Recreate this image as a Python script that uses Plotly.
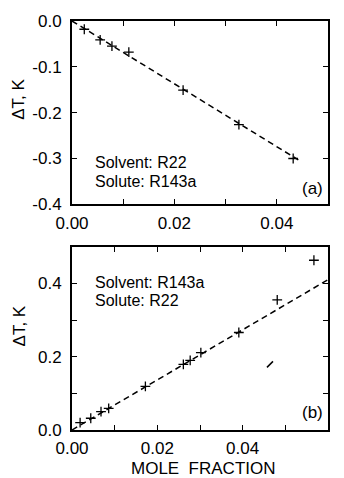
import plotly.graph_objects as go
from plotly.subplots import make_subplots

# Panel (a): solvent R22, solute R143a
a_x = [0.0024, 0.0055, 0.0078, 0.0111, 0.0217, 0.0326, 0.0432]
a_y = [-0.018, -0.041, -0.055, -0.068, -0.151, -0.226, -0.300]
a_fit_x = [0.0, 0.0442]
a_fit_y = [0.0, -0.303]

# Panel (b): solvent R143a, solute R22
b_x = [0.0019, 0.0044, 0.0068, 0.0086, 0.0172, 0.0261, 0.0277, 0.0302, 0.0391, 0.0481, 0.0567]
b_y = [0.020, 0.032, 0.050, 0.059, 0.119, 0.179, 0.190, 0.211, 0.266, 0.355, 0.463]
b_fit_x = [0.0, 0.06]
b_fit_y = [0.0, 0.41]
b_stray_x = [0.0464]
b_stray_y = [0.179]

a_xticks = [0.0, 0.02, 0.04]
a_xtext = ["0.00", "0.02", "0.04"]
a_yticks = [-0.4, -0.3, -0.2, -0.1, 0.0]
a_ytext = ["-0.4", "-0.3", "-0.2", "-0.1", "0.0"]
b_xticks = [0.0, 0.02, 0.04, 0.06]
b_xtext = ["0.00", "0.02", "0.04", "0.06"]
b_yticks = [0.0, 0.2, 0.4]
b_ytext = ["0.0", "0.2", "0.4"]

FONT = "Liberation Sans, Arial, Helvetica, sans-serif"
FS = 17

fig = make_subplots(rows=2, cols=1, vertical_spacing=43/415)

mk = dict(symbol="cross-thin", size=7, color="black", line=dict(color="black", width=1.3))
ln = dict(color="black", width=1.5, dash="6px,4px")

fig.add_trace(go.Scatter(x=a_fit_x, y=a_fit_y, mode="lines", line=ln, showlegend=False), row=1, col=1)
fig.add_trace(go.Scatter(x=a_x, y=a_y, mode="markers", marker=mk, showlegend=False), row=1, col=1)
fig.add_trace(go.Scatter(x=b_fit_x, y=b_fit_y, mode="lines", line=ln, showlegend=False), row=2, col=1)
fig.add_trace(go.Scatter(x=b_x, y=b_y, mode="markers", marker=mk, showlegend=False), row=2, col=1)
fig.add_trace(go.Scatter(x=b_stray_x, y=b_stray_y, mode="markers",
                         marker=dict(symbol="line-ne", size=6, line=dict(color="black", width=1.5)),
                         showlegend=False), row=2, col=1)

axcommon = dict(showline=True, linecolor="black", linewidth=2, mirror="ticks",
                ticks="inside", ticklen=5, tickwidth=1, tickcolor="black",
                showgrid=False, zeroline=False,
                tickfont=dict(family=FONT, size=FS, color="black"))

fig.update_xaxes(range=[0, 0.05], tickvals=a_xticks, ticktext=a_xtext,
                 minor=dict(dtick=0.01, ticks="inside", ticklen=5, tickcolor="black"),
                 ticklabelstandoff=2, **axcommon, row=1, col=1)
fig.update_yaxes(range=[-0.4, 0.0], tickvals=a_yticks, ticktext=a_ytext,
                 ticklabelstandoff=5, **axcommon, row=1, col=1)
fig.update_xaxes(range=[0, 0.06], tickvals=b_xticks, ticktext=b_xtext,
                 minor=dict(dtick=0.01, ticks="inside", ticklen=5, tickcolor="black"),
                 ticklabelstandoff=2, **axcommon, row=2, col=1)
fig.update_yaxes(range=[0, 0.5], tickvals=b_yticks, ticktext=b_ytext,
                 minor=dict(dtick=0.1, ticks="inside", ticklen=5, tickcolor="black"),
                 ticklabelstandoff=5, **axcommon, row=2, col=1)

tf = dict(family=FONT, size=FS, color="black")
lf = dict(family=FONT, size=16, color="black")
ann = [
    dict(text="Solvent: R22", x=0.0042, y=-0.3086, xref="x", yref="y", xanchor="left", yanchor="middle", font=lf),
    dict(text="Solute: R143a", x=0.0042, y=-0.3495, xref="x", yref="y", xanchor="left", yanchor="middle", font=lf),
    dict(text="(a)", x=0.0492, y=-0.366, xref="x", yref="y", xanchor="right", yanchor="middle", font=tf),
    dict(text="Solvent: R143a", x=0.0052, y=0.403, xref="x2", yref="y2", xanchor="left", yanchor="middle", font=lf),
    dict(text="Solute: R22", x=0.0052, y=0.352, xref="x2", yref="y2", xanchor="left", yanchor="middle", font=lf),
    dict(text="(b)", x=0.0590, y=0.048, xref="x2", yref="y2", xanchor="right", yanchor="middle", font=tf),
    dict(text="ΔT, K", x=0, xref="paper", xshift=-53, y=0.57, yref="y domain",
         textangle=-90, xanchor="center", yanchor="middle", font=tf),
    dict(text="ΔT, K", x=0, xref="paper", xshift=-53, y=0.565, yref="y2 domain",
         textangle=-90, xanchor="center", yanchor="middle", font=tf),
    dict(text="MOLE\u00a0\u00a0FRACTION", x=(203.5-72)/256, xref="paper", y=0, yref="paper",
         yshift=-38, xanchor="center", yanchor="middle", font=tf),
]
for a in ann:
    a.update(showarrow=False, borderpad=0)
    fig.add_annotation(**a)

fig.update_layout(width=344, height=478, margin=dict(l=72, r=16, t=15, b=48),
                  plot_bgcolor="white", paper_bgcolor="white",
                  font=dict(family=FONT, size=FS, color="black"))

fig.write_html("out.html")
